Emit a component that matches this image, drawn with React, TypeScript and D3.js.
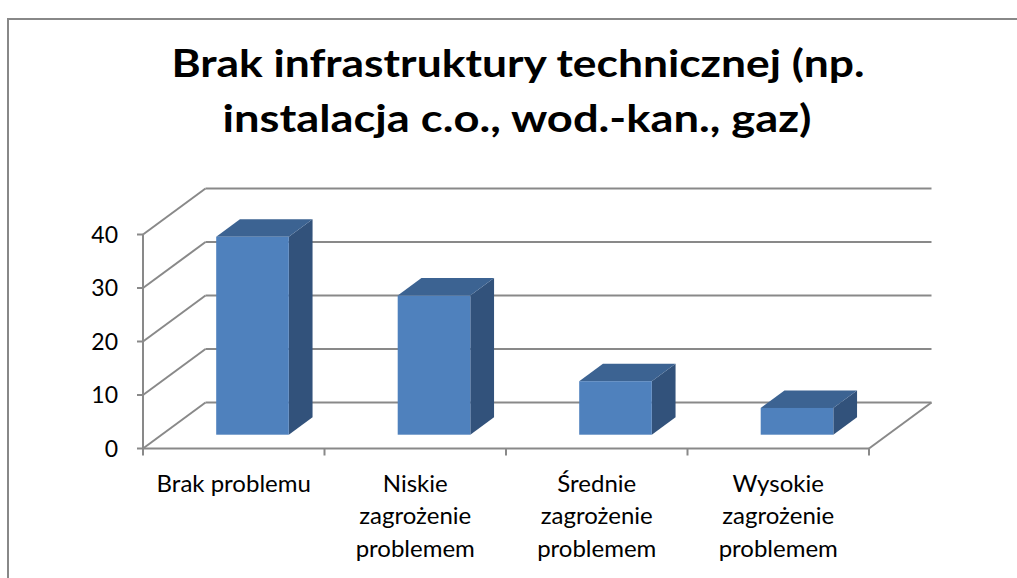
import React, { useRef, useEffect } from 'react';
import * as d3 from 'd3';

// data
const categories: string[][] = [
    ['Brak problemu'],
    ['Niskie', 'zagrożenie', 'problemem'],
    ['Średnie', 'zagrożenie', 'problemem'],
    ['Wysokie', 'zagrożenie', 'problemem'],
];
const values: number[] = [37, 26, 10, 5];
const yTicks: number[] = [0, 10, 20, 30, 40];
const titleLines: string[] = [
    'Brak infrastruktury technicznej (np.',
    'instalacja c.o., wod.-kan., gaz)',
];

const W = 1017;
const H = 578;

const App = () => {
    const svgRef = useRef<SVGSVGElement | null>(null);

    useEffect(() => {
        if (!svgRef.current) return;
        const svg = d3.select(svgRef.current);
        svg.selectAll('*').remove();

        // oblique 3D: depth vector of the floor
        const depth = { dx: 62.5, dy: -46 };
        const front0 = 0.3, front1 = 0.68; // bar position inside depth

        const x = d3.scaleBand<number>()
            .domain(d3.range(values.length))
            .range([143, 869])
            .paddingInner(0.6)
            .paddingOuter(0.3);
        const step = x.step();
        const x0 = 143;
        const y = d3.scaleLinear().domain([0, 40]).range([448.5, 234.5]);

        const grid = '#898989';
        const font = 'Lato, "Open Sans", sans-serif';

        // outer border
        svg.append('rect')
            .attr('x', 8).attr('y', 19).attr('width', W + 20).attr('height', H)
            .attr('fill', 'white').attr('stroke', '#888').attr('stroke-width', 2);

        // title
        const t = svg.append('g').attr('font-family', font).attr('font-weight', 700)
            .attr('font-size', 38.5).attr('text-anchor', 'middle').attr('fill', '#000');
        t.append('text').attr('x', 518).attr('y', 76.5)
            .attr('textLength', 693).attr('lengthAdjust', 'spacingAndGlyphs').text(titleLines[0]);
        t.append('text').attr('x', 517).attr('y', 132)
            .attr('textLength', 589).attr('lengthAdjust', 'spacingAndGlyphs').text(titleLines[1]);

        const g = svg.append('g');
        const xRight = x0 + step * values.length;

        // back wall gridlines + left wall diagonals
        yTicks.forEach(v => {
            const yf = y(v);
            g.append('line')
                .attr('x1', x0).attr('y1', yf).attr('x2', x0 + depth.dx).attr('y2', yf + depth.dy)
                .attr('stroke', grid).attr('stroke-width', 2);
            g.append('line')
                .attr('x1', x0 + depth.dx).attr('y1', yf + depth.dy)
                .attr('x2', xRight + depth.dx).attr('y2', yf + depth.dy)
                .attr('stroke', grid).attr('stroke-width', 2);
        });

        // floor: right edge and front edge
        g.append('line')
            .attr('x1', xRight).attr('y1', y(0)).attr('x2', xRight + depth.dx).attr('y2', y(0) + depth.dy)
            .attr('stroke', grid).attr('stroke-width', 2);
        g.append('line')
            .attr('x1', x0).attr('y1', y(0)).attr('x2', xRight).attr('y2', y(0))
            .attr('stroke', grid).attr('stroke-width', 2);

        // vertical axis
        g.append('line')
            .attr('x1', x0).attr('y1', y(0)).attr('x2', x0).attr('y2', y(40))
            .attr('stroke', grid).attr('stroke-width', 2);
        yTicks.forEach(v => {
            g.append('line')
                .attr('x1', x0 - 6).attr('y1', y(v)).attr('x2', x0).attr('y2', y(v))
                .attr('stroke', grid).attr('stroke-width', 2);
            g.append('text')
                .attr('x', 118).attr('y', y(v)).attr('dy', '0.36em')
                .attr('text-anchor', 'end').attr('font-family', font).attr('font-size', 23)
                .attr('fill', '#000').text(String(v));
        });

        // category ticks
        d3.range(values.length + 1).forEach(i => {
            const xt = x0 + i * step;
            g.append('line')
                .attr('x1', xt).attr('y1', y(0)).attr('x2', xt).attr('y2', y(0) + 7)
                .attr('stroke', grid).attr('stroke-width', 2);
        });

        // bars
        values.forEach((v, i) => {
            const bx = x(i)!;
            const bw = x.bandwidth();
            const ox = depth.dx * front0, oy = depth.dy * front0;
            const ddx = depth.dx * (front1 - front0), ddy = depth.dy * (front1 - front0);
            const L = bx + ox, R = bx + bw + ox;
            const T = y(v) + oy, B = y(0) + oy;
            const bar = g.append('g');
            // side
            bar.append('path')
                .attr('d', `M${R},${T}L${R + ddx},${T + ddy}L${R + ddx},${B + ddy}L${R},${B}Z`)
                .attr('fill', '#32527B');
            // top
            bar.append('path')
                .attr('d', `M${L},${T}L${L + ddx},${T + ddy}L${R + ddx},${T + ddy}L${R},${T}Z`)
                .attr('fill', '#3C6392');
            // front
            bar.append('rect')
                .attr('x', L).attr('y', T).attr('width', bw).attr('height', B - T)
                .attr('fill', '#4F81BD');
        });

        // category labels
        categories.forEach((lines, i) => {
            const cx = x(i)! + x.bandwidth() / 2;
            const txt = g.append('text')
                .attr('text-anchor', 'middle').attr('font-family', font)
                .attr('font-size', 24).attr('fill', '#000');
            lines.forEach((ln, j) => {
                txt.append('tspan').attr('x', cx).attr('y', 491.7 + j * 32.5).text(ln);
            });
        });
    }, []);

    return (
        <svg
            ref={svgRef}
            width={W}
            height={H}
            style={{ position: 'absolute', left: 0, top: 0, display: 'block', background: 'white' }}
        />
    );
};

export default App;
